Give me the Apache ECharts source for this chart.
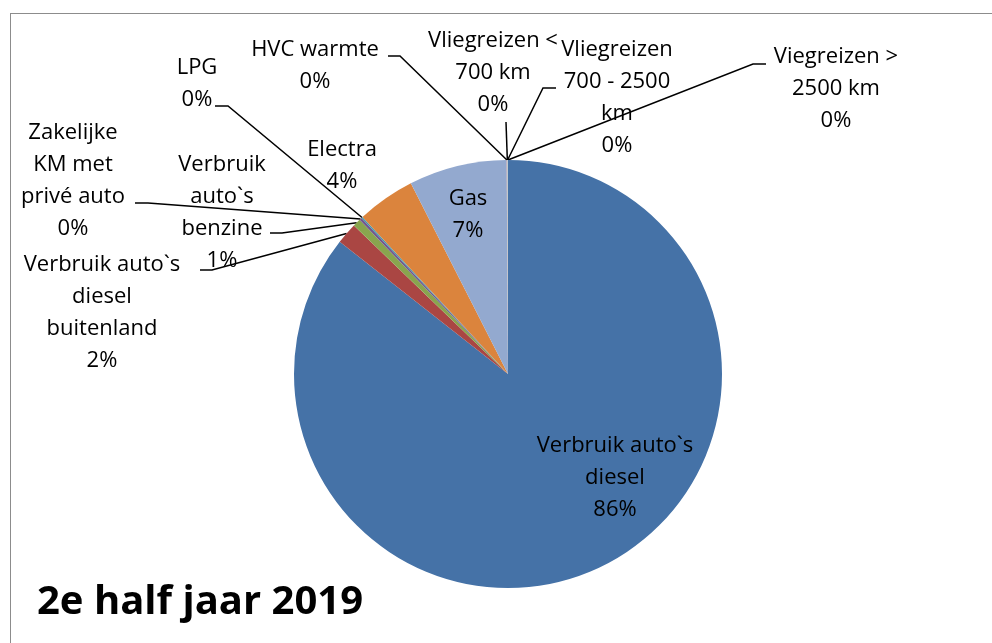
<!DOCTYPE html>
<html lang="nl">
<head>
    <meta charset="UTF-8">
    <title>2e half jaar 2019</title>
    <script src="https://cdn.jsdelivr.net/npm/echarts@6/dist/echarts.min.js"></script>
    <style>
        body {
            margin: 0;
            padding: 0;
            background: #fff;
        }
        #chart {
            width: 992px;
            height: 643px;
        }
        .frame {
            position: absolute;
            left: 10px;
            top: 13px;
            width: 1000px;
            height: 700px;
            border: 1.5px solid #8c8c8c;
            pointer-events: none;
        }
    </style>
</head>
<body>
    <div id="chart"></div>
    <div class="frame"></div>

<script>
    // Categories and shares (percent), clockwise from 12 o'clock
    const categories = [
        'Verbruik auto`s diesel',
        'Verbruik auto`s diesel buitenland',
        'Verbruik auto`s benzine',
        'Zakelijke KM met privé auto',
        'LPG',
        'Electra',
        'Gas',
        'HVC warmte',
        'Vliegreizen < 700 km',
        'Vliegreizen 700 - 2500 km',
        'Viegreizen > 2500 km'
    ];
    const values = [85.6, 1.6, 0.6, 0.2, 0.1, 4.4, 7.4, 0.04, 0.02, 0.02, 0.02];

    const colors = ['#4572a7', '#aa4643', '#89a54e', '#71588f', '#4198af', '#db843d',
                    '#93a9cf', '#d19392', '#b9cd96', '#a99bbd', '#91c3d5'];

    // How each label wraps, like the original
    const labelText = [
        'Verbruik auto`s\ndiesel',
        'Verbruik auto`s\ndiesel\nbuitenland',
        'Verbruik\nauto`s\nbenzine',
        'Zakelijke\nKM met\nprivé auto',
        'LPG',
        'Electra',
        'Gas',
        'HVC warmte',
        'Vliegreizen <\n700 km',
        'Vliegreizen\n700 - 2500\nkm',
        'Viegreizen >\n2500 km'
    ];

    // label block centre + elbow points of the leader line (label side)
    const labelPlace = [
        { x: 615, y: 478 },
        { x: 102, y: 313, line: [[212, 270], [200, 270]] },
        { x: 222, y: 213, line: [[282, 233], [270, 233]] },
        { x: 73,  y: 181, line: [[148, 203], [135, 203]] },
        { x: 197, y: 84,  line: [[228, 106], [215, 106]] },
        { x: 342, y: 166 },
        { x: 468, y: 215 },
        { x: 315, y: 66,  line: [[400, 56], [388, 56]] },
        { x: 493, y: 73,  line: [[506, 122], [506, 122]] },
        { x: 617, y: 98,  line: [[543, 88], [556, 88]] },
        { x: 836, y: 89,  line: [[753, 64], [766, 64]] }
    ];

    const chart = echarts.init(document.getElementById('chart'));

    const option = {
        animation: false,
        title: {
            text: '2e half jaar 2019',
            left: 32,
            top: 578,
            textStyle: {
                fontFamily: 'Open Sans',
                fontWeight: 'bold',
                fontSize: 40,
                color: '#000'
            }
        },
        series: [
            {
                type: 'pie',
                center: [508, 374],
                radius: 214,
                startAngle: 90,
                clockwise: true,
                avoidLabelOverlap: false,
                data: categories.map((name, i) => ({
                    name: name,
                    value: values[i],
                    itemStyle: { color: colors[i] },
                    labelLine: { show: !!labelPlace[i].line }
                })),
                label: {
                    show: true,
                    position: 'outside',
                    fontFamily: 'Open Sans',
                    fontSize: 22,
                    lineHeight: 32,
                    color: '#000',
                    align: 'center',
                    formatter: p => labelText[p.dataIndex] + '\n' + Math.round(p.percent) + '%'
                },
                labelLine: {
                    show: true,
                    length: 10,
                    length2: 10,
                    lineStyle: { color: '#000', width: 1.5 }
                },
                labelLayout: function (params) {
                    const place = labelPlace[params.dataIndex];
                    const out = {
                        x: place.x,
                        y: place.y,
                        align: 'center',
                        verticalAlign: 'middle'
                    };
                    if (place.line && params.labelLinePoints) {
                        out.labelLinePoints = [params.labelLinePoints[0], place.line[0], place.line[1]];
                    }
                    return out;
                }
            }
        ]
    };

    chart.setOption(option);
</script>
</body>
</html>
